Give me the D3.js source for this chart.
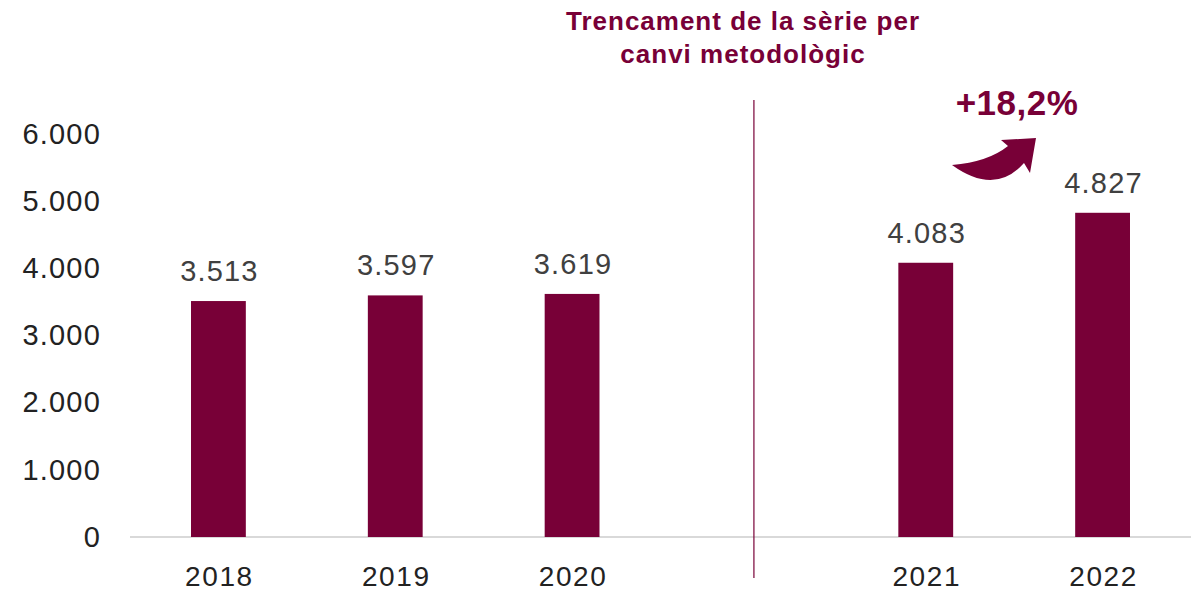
<!DOCTYPE html>
<html>
<head>
<meta charset="utf-8">
<script src="https://cdn.jsdelivr.net/npm/d3@7"></script>
<style>
  body { margin: 0; background: #fff; }
  svg { display: block; font-family: "Liberation Sans", Arial, sans-serif; }
</style>
</head>
<body>
<div id="chart"></div>
<script>
'use strict';

// data
const years = ['2018', '2019', '2020', '', '2021', '2022'];
const values = [3513, 3597, 3619, null, 4083, 4827];
const yTicks = [0, 1000, 2000, 3000, 4000, 5000, 6000];
const titleLines = ['Trencament de la sèrie per', 'canvi metodològic'];
const growthLabel = '+18,2%';

const W = 1191, H = 591;
const wine = '#780037';

const locale = d3.formatLocale({decimal: ',', thousands: '.', grouping: [3], currency: ['', '€']});
const fmt = locale.format(',d');

const svg = d3.select('#chart')
  .append('svg')
    .attr('width', W)
    .attr('height', H);

const x = d3.scaleBand()
  .domain(years)
  .range([130, W])
  .paddingInner(0.69)
  .paddingOuter(0.345);

const y = d3.scaleLinear()
  .domain([0, 6000])
  .range([537, 134]);

// y axis labels
const yAxis = svg.append('g')
  .attr('transform', 'translate(101,0)')
  .call(d3.axisLeft(y).tickValues(yTicks).tickFormat(fmt).tickSize(0).tickPadding(0));
yAxis.select('.domain').remove();
yAxis.selectAll('text')
  .attr('font-size', 29)
  .attr('letter-spacing', 1.2)
  .attr('font-family', '"Liberation Sans", Arial, sans-serif')
  .attr('fill', '#222');

// baseline
svg.append('line')
  .attr('x1', 130).attr('x2', W)
  .attr('y1', y(0)).attr('y2', y(0))
  .attr('stroke', '#d9d9d9')
  .attr('stroke-width', 2);

// x axis labels
const xAxis = svg.append('g')
  .attr('transform', `translate(1,${y(0)})`)
  .call(d3.axisBottom(x).tickSize(0).tickPadding(29));
xAxis.select('.domain').remove();
xAxis.selectAll('text')
  .attr('font-size', 28)
  .attr('letter-spacing', 1.6)
  .attr('font-family', '"Liberation Sans", Arial, sans-serif')
  .attr('fill', '#222');

const rows = years.map((yr, i) => ({year: yr, value: values[i]})).filter(d => d.value != null);

// bars
svg.selectAll('rect.bar')
  .data(rows)
  .join('rect')
    .attr('class', 'bar')
    .attr('x', d => x(d.year))
    .attr('y', d => y(d.value))
    .attr('width', x.bandwidth())
    .attr('height', d => y(0) - y(d.value))
    .attr('fill', wine);

// value labels
svg.selectAll('text.val')
  .data(rows)
  .join('text')
    .attr('class', 'val')
    .attr('x', d => x(d.year) + x.bandwidth() / 2 + 1)
    .attr('y', d => y(d.value) - 20)
    .attr('text-anchor', 'middle')
    .attr('font-size', 29)
    .attr('letter-spacing', 1.2)
    .attr('fill', '#404040')
    .text(d => fmt(d.value));

// break line
const breakX = x('') + x.bandwidth() / 2 + 5;
svg.append('line')
  .attr('x1', breakX).attr('x2', breakX)
  .attr('y1', 100).attr('y2', 578)
  .attr('stroke', wine)
  .attr('stroke-width', 1.2);

// title
svg.append('text')
  .attr('text-anchor', 'middle')
  .attr('font-size', 26)
  .attr('letter-spacing', 1)
  .attr('font-weight', 'bold')
  .attr('fill', wine)
  .selectAll('tspan')
  .data(titleLines)
  .join('tspan')
    .attr('x', 743)
    .attr('y', (d, i) => 30 + i * 33)
    .text(d => d);

// growth annotation
svg.append('text')
  .attr('x', 1017)
  .attr('y', 115)
  .attr('text-anchor', 'middle')
  .attr('font-size', 35)
  .attr('letter-spacing', 0.5)
  .attr('font-weight', 'bold')
  .attr('fill', wine)
  .text(growthLabel);

svg.append('path')
  .attr('d', 'M952,165 Q988,162 1008,146 L1001,140 L1036,138 L1030,173 L1024,163 Q995,196 952,165 Z')
  .attr('fill', wine);
</script>
</body>
</html>
